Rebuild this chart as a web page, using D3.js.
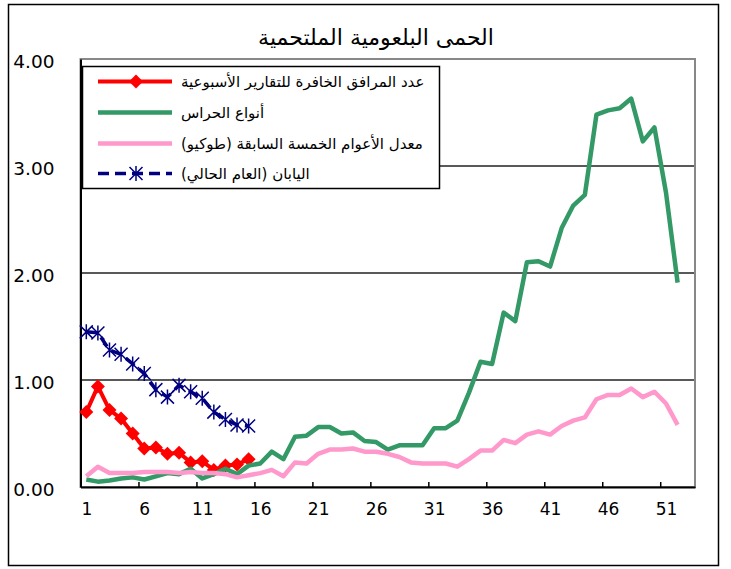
<!DOCTYPE html>
<html>
<head>
<meta charset="utf-8">
<script src="https://cdn.jsdelivr.net/npm/d3@7"></script>
<style>
    body { margin: 0; background: #fff; }
    figure { margin: 0; }
    svg { display: block; }
    .axis_text { font-family: "DejaVu Sans", sans-serif; font-size: 17px; fill: #000; }
</style>
</head>
<body>
<figure id="chart"></figure>
<script>
// week labels shown under the x axis
const weekLabels = [1, 6, 11, 16, 21, 26, 31, 36, 41, 46, 51];
const yTicks = [0, 1, 2, 3, 4];

// red: sentinel reports, weeks 1-15
const sentinelReports = [0.70, 0.94, 0.72, 0.64, 0.50, 0.36, 0.37, 0.31, 0.32, 0.23, 0.24, 0.16, 0.20, 0.21, 0.26];
// green
const guardTypes = [0.07, 0.05, 0.06, 0.08, 0.09, 0.07, 0.10, 0.13, 0.12, 0.17,
    0.08, 0.12, 0.17, 0.12, 0.20, 0.22, 0.33, 0.26, 0.47, 0.48,
    0.56, 0.56, 0.50, 0.51, 0.43, 0.42, 0.35, 0.39, 0.39, 0.39,
    0.55, 0.55, 0.62, 0.88, 1.17, 1.15, 1.63, 1.55, 2.10, 2.11,
    2.06, 2.42, 2.63, 2.73, 3.48, 3.52, 3.54, 3.63, 3.23, 3.36,
    2.75, 1.91];
// pink: previous 5 years average (Tokyo)
const tokyoAvg = [0.10, 0.19, 0.13, 0.13, 0.13, 0.14, 0.14, 0.14, 0.13, 0.14,
    0.13, 0.13, 0.12, 0.09, 0.11, 0.13, 0.16, 0.10, 0.23, 0.22,
    0.31, 0.35, 0.35, 0.36, 0.33, 0.33, 0.31, 0.28, 0.23, 0.22,
    0.22, 0.22, 0.19, 0.26, 0.34, 0.34, 0.44, 0.41, 0.49, 0.52,
    0.49, 0.57, 0.62, 0.65, 0.82, 0.86, 0.86, 0.92, 0.84, 0.89,
    0.78, 0.58];
// navy: Japan current year
const japanCurrent = [1.45, 1.44, 1.28, 1.24, 1.15, 1.06, 0.91, 0.84, 0.95, 0.89, 0.83, 0.70, 0.63, 0.58, 0.57];

const titleText = "الحمى البلعومية الملتحمية";
const legendLabels = [
    "عدد المرافق الخافرة للتقارير الأسبوعية",
    "أنواع الحراس",
    "معدل الأعوام الخمسة السابقة (طوكيو)",
    "اليابان (العام الحالي)"
];

let dimensions = {
    width: 731,
    height: 569,
    margin: { top: 59, right: 36, bottom: 82, left: 80.5 },
};
dimensions.boundedWidth = dimensions.width - dimensions.margin.left - dimensions.margin.right;
dimensions.boundedHeight = dimensions.height - dimensions.margin.top - dimensions.margin.bottom;

const root = d3.select("figure#chart")
    .append("svg")
    .attr("width", dimensions.width)
    .attr("height", dimensions.height);

// chart area border
root.append("rect")
    .attr("x", 8.5).attr("y", 4.5)
    .attr("width", 710).attr("height", 561)
    .attr("fill", "#fff")
    .attr("stroke", "#000")
    .attr("stroke-width", 1.5);

root.append("text")
    .attr("x", 376)
    .attr("y", 45)
    .attr("text-anchor", "middle")
    .attr("font-family", "DejaVu Sans, sans-serif")
    .attr("font-size", 22)
    .text(titleText);

const svg = root.append("g")
    .attr("transform", `translate(${dimensions.margin.left}, ${dimensions.margin.top})`);

// weeks sit in the middle of their slot
const xScale = d3.scaleLinear()
    .domain([0.5, 53.5])
    .range([0, dimensions.boundedWidth]);

const yScale = d3.scaleLinear()
    .domain([0, 4])
    .range([dimensions.boundedHeight, 0]);

// grid lines
svg.append("g")
    .selectAll("line")
    .data(yTicks.filter(d => d > 0 && d < 4))
    .enter()
    .append("line")
    .attr("x1", 0)
    .attr("x2", dimensions.boundedWidth)
    .attr("y1", d => yScale(d))
    .attr("y2", d => yScale(d))
    .attr("stroke", "#222")
    .attr("stroke-width", 1.5);

// plot area border
svg.append("rect")
    .attr("width", dimensions.boundedWidth)
    .attr("height", dimensions.boundedHeight)
    .attr("fill", "none")
    .attr("stroke", "#888")
    .attr("stroke-width", 2);

// tick marks between categories
const tickMarks = svg.append("g")
    .attr("transform", `translate(0, ${dimensions.boundedHeight})`)
    .call(d3.axisBottom(xScale)
        .tickValues(weekLabels.map(d => d - 0.5))
        .tickSize(-5)
        .tickSizeOuter(0)
        .tickFormat(""));
tickMarks.select(".domain").attr("stroke", "#000").attr("stroke-width", 2);
tickMarks.selectAll(".tick line").attr("stroke", "#000").attr("stroke-width", 1.5);

const xAxis = svg.append("g")
    .attr("transform", `translate(0, ${dimensions.boundedHeight})`)
    .call(d3.axisBottom(xScale).tickValues(weekLabels).tickSize(0).tickPadding(16));
xAxis.select(".domain").remove();
xAxis.selectAll("text").attr("class", "axis_text");

const yAxis = svg.append("g")
    .call(d3.axisLeft(yScale).tickValues(yTicks).tickSize(0).tickPadding(26).tickFormat(d3.format(".2f")));
yAxis.select(".domain").attr("stroke", "#000").attr("stroke-width", 2);
yAxis.selectAll("text").attr("class", "axis_text").style("font-size", "18.5px").attr("dy", "0.48em");

const line = d3.line()
    .x((d, i) => xScale(i + 1))
    .y(d => yScale(d));

const series = [
    { values: sentinelReports, color: "#ff0000", width: 4, dash: null, marker: "diamond" },
    { values: guardTypes, color: "#339966", width: 4.5, dash: null, marker: null },
    { values: tokyoAvg, color: "#ff99cc", width: 4.5, dash: null, marker: null },
    { values: japanCurrent, color: "#000080", width: 3.5, dash: "11,6", marker: "star" },
];

function drawMarker(g, type, color) {
    if (type === "diamond") {
        g.append("path")
            .attr("d", "M0,-7L7,0L0,7L-7,0Z")
            .attr("fill", color);
    } else if (type === "star") {
        g.append("path")
            .attr("d", "M-6.5,-6.5L6.5,6.5M-6.5,6.5L6.5,-6.5M0,-7.5L0,7.5")
            .attr("stroke", color)
            .attr("stroke-width", 1.5)
            .attr("fill", "none");
    }
}

series.forEach(s => {
    svg.append("path")
        .datum(s.values)
        .attr("d", line)
        .attr("fill", "none")
        .attr("stroke", s.color)
        .attr("stroke-width", s.width)
        .attr("stroke-linejoin", "round")
        .attr("stroke-dasharray", s.dash);
    if (s.marker) {
        svg.append("g")
            .selectAll("g")
            .data(s.values)
            .enter()
            .append("g")
            .attr("transform", (d, i) => `translate(${xScale(i + 1)}, ${yScale(d)})`)
            .each(function() { drawMarker(d3.select(this), s.marker, s.color); });
    }
});

// legend
const legend = root.append("g");
legend.append("rect")
    .attr("x", 82.5).attr("y", 66.5)
    .attr("width", 357).attr("height", 122)
    .attr("fill", "#fff")
    .attr("stroke", "#000")
    .attr("stroke-width", 1.5);

const rowY = [81.5, 112.5, 143.5, 173.5];
series.forEach((s, i) => {
    const row = legend.append("g").attr("transform", `translate(0, ${rowY[i]})`);
    row.append("line")
        .attr("x1", 98).attr("x2", 172)
        .attr("stroke", s.color)
        .attr("stroke-width", s.width)
        .attr("stroke-dasharray", s.dash);
    if (s.marker) {
        const m = row.append("g").attr("transform", "translate(136, 0)");
        drawMarker(m, s.marker, s.color);
    }
    row.append("text")
        .attr("x", 181)
        .attr("y", 5)
        .attr("direction", "rtl")
        .attr("text-anchor", "end")
        .attr("font-family", "DejaVu Sans, sans-serif")
        .attr("font-size", 15)
        .text(legendLabels[i]);
});
</script>
</body>
</html>
